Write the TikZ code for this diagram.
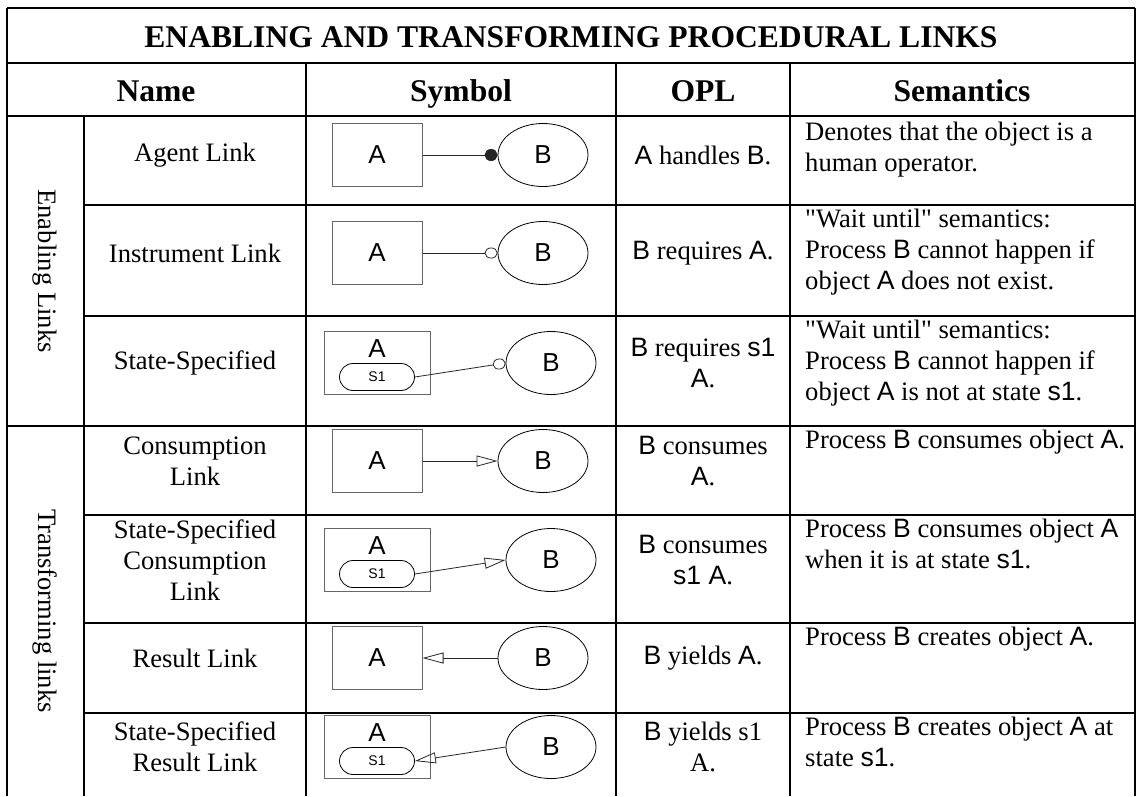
\documentclass[tikz,border=0pt]{standalone}
\usepackage{fontspec}
\setmainfont{Liberation Serif}
\newfontfamily\arialfont{Liberation Sans}
\usetikzlibrary{positioning,shapes,arrows.meta}

\newcommand{\sfx}[1]{{\arialfont #1}}
\newcommand{\bodysize}{\fontsize{26.6pt}{31pt}\selectfont}
\newcommand{\headsize}{\fontsize{31.6pt}{36pt}\selectfont\bfseries}
\newcommand{\symsize}{\arialfont\fontsize{26pt}{28pt}\selectfont}
\newcommand{\statesize}{\arialfont\fontsize{14pt}{16pt}\selectfont}

\tikzset {
    style grid/.style={
        draw=black,
        line width=2.5pt,
    },
    style head/.style={
        font=\headsize,
        anchor=base,
    },
    style obj/.style={
        draw=black!60,
        line width=1pt,
        rectangle, % object box
        minimum width=90pt,
        minimum height=63pt,
        inner sep=0pt,
        font=\symsize,
    },
    style objS/.style={
        style obj,
        minimum width=106pt,
    },
    style proc/.style={
        draw=black,
        line width=0.8pt,
        ellipse, % process
        minimum width=90pt,
        minimum height=63pt,
        inner sep=0pt,
        font=\symsize,
    },
    style state/.style={
        draw=black,
        line width=0.8pt,
        rounded rectangle,
        minimum width=75pt,
        minimum height=27pt,
        inner sep=0pt,
        font=\statesize,
    },
    style link/.style={
        draw=black!85,
        line width=0.8pt,
    },
    style sem/.style={
        anchor=north west,
        align=left,
        inner sep=0pt,
    },
}

\begin{document}
\begin{tikzpicture}[x=1pt, y=-1pt, font=\bodysize, align=center]
        \useasboundingbox (0,0) rectangle (1137,796);

        % table rules
        \draw[style grid] (7,8) -- (1135,8);
        \draw[style grid] (7,63) -- (1135,63);
        \draw[style grid] (7,116) -- (1135,116);
        \draw[style grid] (84,205) -- (1135,205);
        \draw[style grid] (84,316) -- (1135,316);
        \draw[style grid] (7,426) -- (1135,426);
        \draw[style grid] (84,515) -- (1135,515);
        \draw[style grid] (84,623) -- (1135,623);
        \draw[style grid] (84,713) -- (1135,713);
        \draw[style grid] (7,8) -- (7,796);
        \draw[style grid] (1135,8) -- (1135,796);
        \draw[style grid] (84,116) -- (84,796);
        \draw[style grid] (306,63) -- (306,796);
        \draw[style grid] (616,63) -- (616,796);
        \draw[style grid] (790,63) -- (790,796);

        % headings
        \node[style head] (title) at (571,47) {ENABLING AND TRANSFORMING PROCEDURAL LINKS};
        \node[style head] (hName) at (156,101) {Name};
        \node[style head] (hSym) at (461,101) {Symbol};
        \node[style head] (hOpl) at (703,101) {OPL};
        \node[style head] (hSem) at (962,101) {Semantics};
        \node[rotate=-90] (grpEn) at (45,271) {Enabling Links};
        \node[rotate=-90] (grpTr) at (45,611) {Transforming links};

        % agent link
        \node (agName) at (195,155) {Agent Link};
        \node[style obj] (agObj) at (377,155) {A};
        \node[style proc] (agProc) at (543,155) {B};
        \node (agOpl) at (703,155) {\sfx{A} handles \sfx{B}.};
        \node[style sem] (agSem) at (805,122) {Denotes that the object is a\\human operator.};
        \draw[style link, -{Circle[length=13pt,width=12pt]}] (agObj) -- (agProc);

        % instrument link
        \node (insName) at (195,253) {Instrument Link};
        \node[style obj] (insObj) at (377,253) {A};
        \node[style proc] (insProc) at (543,253) {B};
        \node (insOpl) at (703,253) {\sfx{B} requires \sfx{A}.};
        \node[style sem] (insSem) at (805,209) {\textquotedbl Wait until\textquotedbl{} semantics:\\Process \sfx{B} cannot happen if\\object \sfx{A} does not exist.};
        \draw[style link, -{Circle[open,length=13pt,width=11pt]}] (insObj) -- (insProc);

        % state-specified
        \node (ssName) at (195,363) {State-Specified};
        \node[style objS] (ssObj) at (377,363) {};
        \node[font=\symsize] (ssA) at (377,349) {A};
        \node[style state] (ssSt) at (377,377) {S1};
        \node[style proc] (ssProc) at (551,363) {B};
        \node (ssOpl) at (703,363) {\sfx{B} requires \sfx{s1}\\\sfx{A}.};
        \node[style sem] (ssSem) at (805,320) {\textquotedbl Wait until\textquotedbl{} semantics:\\Process \sfx{B} cannot happen if\\object \sfx{A} is not at state \sfx{s1}.};
        \draw[style link, -{Circle[open,length=13pt,width=11pt]}] (ssSt.east) -- (ssProc.west);

        % consumption link
        \node (conName) at (195,461) {Consumption\\Link};
        \node[style obj] (conObj) at (377,461) {A};
        \node[style proc] (conProc) at (543,461) {B};
        \node (conOpl) at (703,461) {\sfx{B} consumes\\\sfx{A}.};
        \node[style sem] (conSem) at (805,430) {Process \sfx{B} consumes object \sfx{A}.};
        \draw[style link, -{Triangle[open,length=21pt,width=11pt]}] (conObj) -- (conProc);

        % state-specified consumption link
        \node (sscName) at (195,560) {State-Specified\\Consumption\\Link};
        \node[style objS] (sscObj) at (377,560) {};
        \node[font=\symsize] (sscA) at (377,546) {A};
        \node[style state] (sscSt) at (377,574) {S1};
        \node[style proc] (sscProc) at (551,560) {B};
        \node (sscOpl) at (703,560) {\sfx{B} consumes\\\sfx{s1 A}.};
        \node[style sem] (sscSem) at (805,519) {Process \sfx{B} consumes object \sfx{A}\\when it is at state \sfx{s1}.};
        \draw[style link, -{Triangle[open,length=21pt,width=11pt]}] (sscSt.east) -- (sscProc.west);

        % result link
        \node (resName) at (195,658) {Result Link};
        \node[style obj] (resObj) at (377,658) {A};
        \node[style proc] (resProc) at (543,658) {B};
        \node (resOpl) at (703,658) {\sfx{B} yields \sfx{A}.};
        \node[style sem] (resSem) at (805,627) {Process \sfx{B} creates object \sfx{A}.};
        \draw[style link, -{Triangle[open,length=21pt,width=11pt]}] (resProc) -- (resObj);

        % state-specified result link
        \node (ssrName) at (195,747) {State-Specified\\Result Link};
        \node[style objS] (ssrObj) at (377,747) {};
        \node[font=\symsize] (ssrA) at (377,733) {A};
        \node[style state] (ssrSt) at (377,761) {S1};
        \node[style proc] (ssrProc) at (551,747) {B};
        \node (ssrOpl) at (703,747) {\sfx{B} yields s1\\A.};
        \node[style sem] (ssrSem) at (805,717) {Process \sfx{B} creates object \sfx{A} at\\state \sfx{s1}.};
        \draw[style link, -{Triangle[open,length=21pt,width=11pt]}] (ssrProc.west) -- (ssrSt.east);
    \end{tikzpicture}
\end{document}
